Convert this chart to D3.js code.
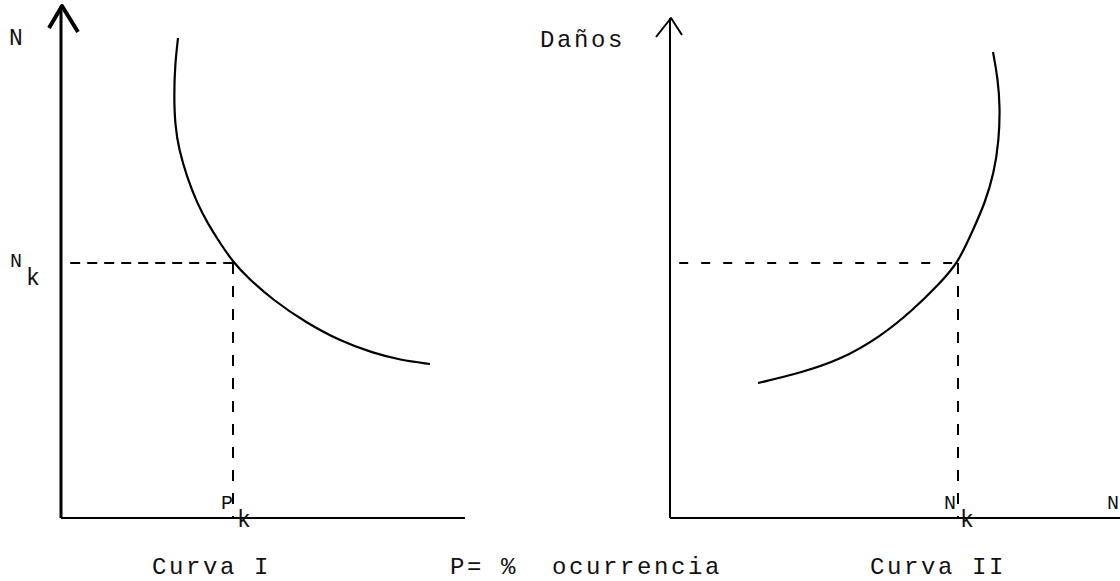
<!DOCTYPE html>
<html>
<head>
<meta charset="utf-8">
<script src="https://cdn.jsdelivr.net/npm/d3@7"></script>
<style>
body { margin: 0; background: #fff; }
text { font-family: "Liberation Mono", "DejaVu Sans Mono", monospace; fill: #111; white-space: pre; }
</style>
</head>
<body>
<svg id="chart" width="1120" height="581"></svg>
<script>
// curva I: N vs P (% ocurrencia)
var curvaIx = [29.25, 28.5, 28.25, 28.5, 29.5, 31.5, 34, 36.75, 39.75, 43, 46.75, 53, 61, 69.75, 78, 84.75, 92.25];
var curvaIy = [96, 90.6, 84.6, 78.6, 73.6, 68.2, 63, 58.8, 55, 51.2, 48, 43.6, 39.2, 35.4, 33, 31.6, 30.8];
// curva II: Danos vs N
var curvaIIx = [80.75, 82, 82.5, 82.25, 81, 78.75, 75.75, 72, 67.5, 60.75, 52.5, 42.5, 32.5, 22];
var curvaIIy = [93.2, 87.6, 82.2, 75.6, 69, 63, 57.6, 51, 47, 41.6, 36.2, 31.6, 29, 27];
var puntoI = {x: 43, y: 51};
var puntoII = {x: 72, y: 51};
var titulos = ["Curva I", "P= %  ocurrencia", "Curva II"];

var svg = d3.select("#chart");

var xI = d3.scaleLinear().domain([0, 100]).range([61, 461]);
var yI = d3.scaleLinear().domain([0, 100]).range([518, 18]);
var xII = d3.scaleLinear().domain([0, 100]).range([670, 1070]);
var yII = d3.scaleLinear().domain([0, 100]).range([518, 18]);

function zip(xs, ys) {
    return xs.map(function(v, i) { return {x: v, y: ys[i]}; });
}

function dibujarPanel(x, y, datos, punto, opts) {
    var g = svg.append("g");
    var x0 = x(0), y0 = y(0);

    // ejes
    g.append("line")
        .attr("x1", x0).attr("x2", x0)
        .attr("y1", y0).attr("y2", opts.top)
        .attr("stroke", "#000").attr("stroke-width", opts.ejeW);
    g.append("line")
        .attr("x1", x0).attr("x2", opts.right)
        .attr("y1", y0).attr("y2", y0)
        .attr("stroke", "#000").attr("stroke-width", 2.2);

    // flecha
    g.append("path")
        .attr("d", "M" + (x0 - opts.ala[0]) + "," + (opts.top + opts.ala[1]) +
                   "L" + (x0 + 1) + "," + opts.top +
                   "L" + (x0 + opts.ala[2]) + "," + (opts.top + opts.ala[3]))
        .attr("fill", "none")
        .attr("stroke", "#000")
        .attr("stroke-width", opts.flechaW)
        .attr("stroke-linejoin", "round");

    // guias a trazos
    g.append("line")
        .attr("x1", x(2.3)).attr("x2", x(punto.x))
        .attr("y1", y(punto.y)).attr("y2", y(punto.y))
        .attr("stroke", "#000").attr("stroke-width", 2)
        .attr("stroke-dasharray", opts.dashH);
    g.append("line")
        .attr("x1", x(punto.x)).attr("x2", x(punto.x))
        .attr("y1", y(punto.y)).attr("y2", y0)
        .attr("stroke", "#000").attr("stroke-width", 2)
        .attr("stroke-dasharray", "11,12");

    // curva
    var linea = d3.line()
        .x(function(d) { return x(d.x); })
        .y(function(d) { return y(d.y); })
        .curve(d3.curveBasis);
    g.append("path")
        .datum(datos)
        .attr("d", linea)
        .attr("fill", "none")
        .attr("stroke", "#000")
        .attr("stroke-width", 2.2);

    return g;
}

function subindice(g, xpos, ypos, base, sub) {
    g.append("text").attr("x", xpos).attr("y", ypos)
        .style("font-size", "20px").text(base);
    g.append("text").attr("x", xpos + 16).attr("y", ypos + 18)
        .style("font-size", "23px").text(sub);
}

var gI = dibujarPanel(xI, yI, zip(curvaIx, curvaIy), puntoI,
    {top: 6, right: 465, ejeW: 3, flechaW: 4, ala: [12, 22, 17, 26], dashH: "10,7"});
var gII = dibujarPanel(xII, yII, zip(curvaIIx, curvaIIy), puntoII,
    {top: 18, right: 1125, ejeW: 2, flechaW: 2, ala: [14, 19, 12, 17], dashH: "9,13"});

// etiquetas de ejes
gI.append("text").attr("x", 9).attr("y", 45).style("font-size", "23px").text("N");
subindice(gI, 10, yI(puntoI.y) + 4, "N", "k");
subindice(gI, xI(puntoI.x) - 12, yI(0) - 9, "P", "k");
gII.append("text").attr("x", 540).attr("y", 47).style("font-size", "24px").style("letter-spacing", "2.6px").text("Daños");
subindice(gII, xII(puntoII.x) - 14, yII(0) - 9, "N", "k");
gII.append("text").attr("x", 1107).attr("y", yII(0) - 9).style("font-size", "20px").text("N");

// titulos inferiores
var tx = [152, 450, 870];
svg.selectAll("text.titulo")
    .data(titulos)
    .enter()
    .append("text")
    .attr("class", "titulo")
    .attr("x", function(d, i) { return tx[i]; })
    .attr("y", 574)
    .style("font-size", "24px")
    .style("letter-spacing", "2.6px")
    .text(function(d) { return d; });
</script>
</body>
</html>
